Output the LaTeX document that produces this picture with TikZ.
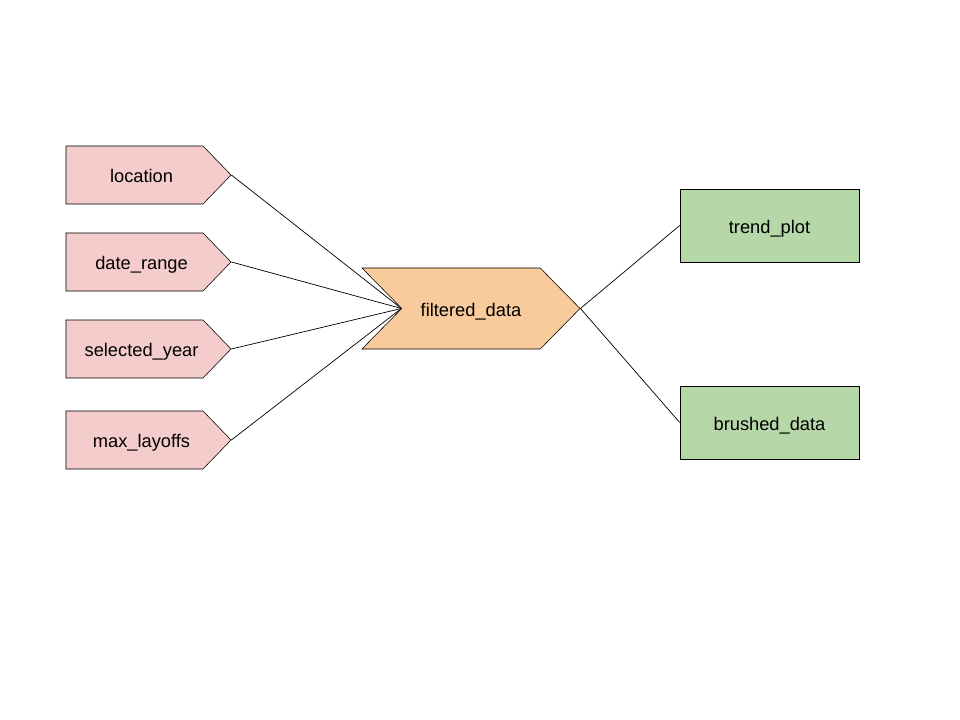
\documentclass[tikz,border=0pt]{standalone}
\usepackage{fontspec}
\setmainfont{Liberation Sans}
\usetikzlibrary{shapes.symbols}
\definecolor{inpink}{HTML}{F4CCCC}
\definecolor{midorange}{HTML}{F9CB9C}
\definecolor{outgreen}{HTML}{B6D7A8}
\tikzset{
  label text/.style={font=\fontsize{13}{15}\selectfont, text height=11pt,
    text depth=0pt},
  input/.style={shape=signal, signal to=east, signal pointer angle=92,
    draw, fill=inpink, minimum width=4.125cm, minimum height=1.45cm,
    inner sep=0pt, label text, execute at begin node=\hspace*{10pt}},
  reactive/.style={shape=signal, signal from=west, signal to=east,
    signal pointer angle=91, draw, fill=midorange, minimum width=5.45cm,
    minimum height=2.025cm, inner sep=0pt, label text},
  output/.style={rectangle, draw, fill=outgreen, minimum width=4.475cm,
    minimum height=1.825cm, inner sep=0pt, label text},
  link/.style={draw, line width=0.5pt}
}
\begin{document}
\begin{tikzpicture}[x=0.025cm,y=-0.025cm]
  \useasboundingbox (0,0) rectangle (960,720);
  % inputs
  \node[input] (location) at (134.5,175) {location};
  \node[input] (daterange) at (134.5,262) {date\_range};
  \node[input] (selyear) at (134.5,349) {selected\_year};
  \node[input] (maxlay) at (134.5,440) {max\_layoffs};
  % reactive
  \node[reactive] (filtered) at (471,308.5) {filtered\_data};
  % outputs
  \node[output] (trend) at (769.5,225.5) {trend\_plot};
  \node[output] (brushed) at (769.5,422.5) {brushed\_data};
  % connections
  \foreach \src in {location,daterange,selyear,maxlay}
    \draw[link] (\src.east) -- (filtered.west);
  \draw[link] (filtered.east) -- (trend.west);
  \draw[link] (filtered.east) -- (brushed.west);
\end{tikzpicture}
\end{document}
